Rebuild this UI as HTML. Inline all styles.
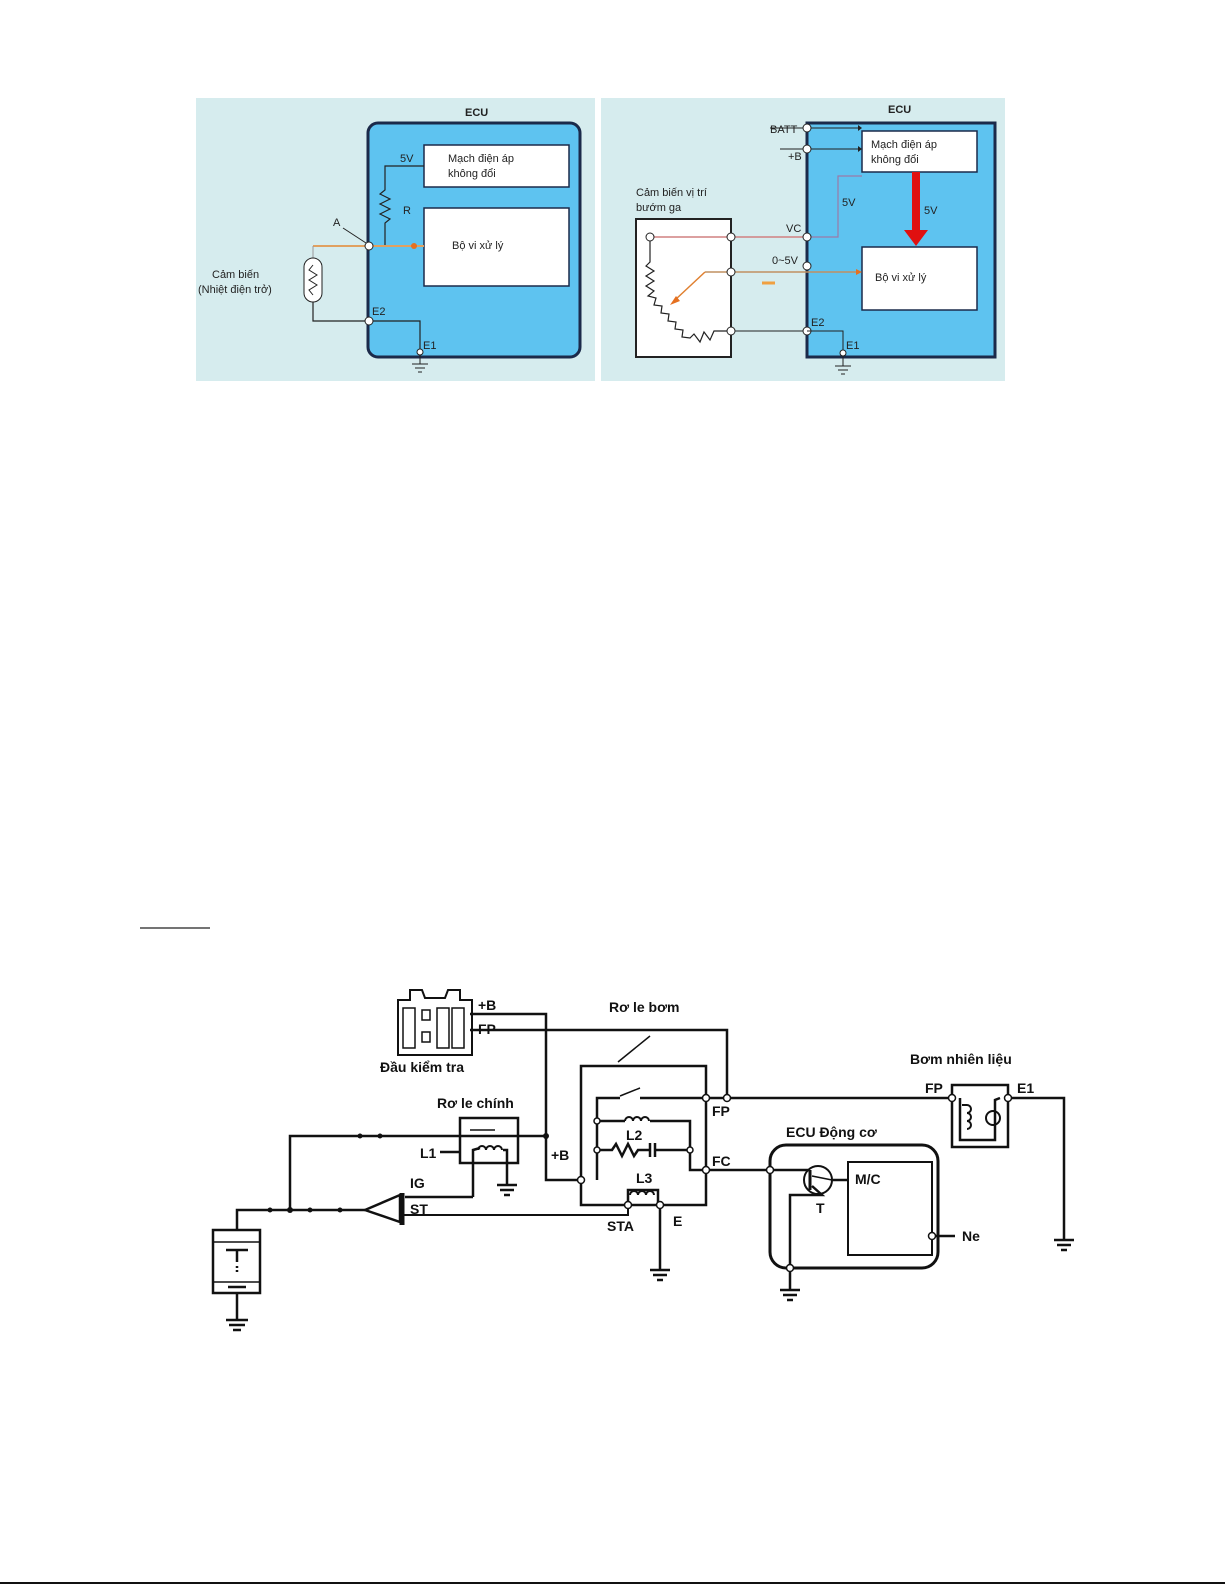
<!DOCTYPE html>
<html><head><meta charset="utf-8"><style>
html,body{margin:0;padding:0;background:#fff;}
svg{display:block;font-family:"Liberation Sans",sans-serif;}
</style></head><body>
<svg width="1225" height="1585" viewBox="0 0 1225 1585" xmlns="http://www.w3.org/2000/svg">
<rect width="1225" height="1585" fill="#fff"/>
<rect x="196" y="98" width="399" height="283" fill="#d6ecee"/>
<rect x="601" y="98" width="404" height="283" fill="#d6ecee"/>
<g font-size="11" fill="#222">
<text x="465" y="116" font-weight="bold">ECU</text>
<rect x="368" y="123" width="212" height="234" rx="10" fill="#5ec3f0" stroke="#1b2a4a" stroke-width="3"/>
<rect x="424" y="145" width="145" height="42" fill="#fff" stroke="#1b2a4a" stroke-width="1.5"/>
<text x="448" y="162">Mạch điện áp</text><text x="448" y="177">không đổi</text>
<rect x="424" y="208" width="145" height="78" fill="#fff" stroke="#1b2a4a" stroke-width="1.5"/>
<text x="452" y="249">Bộ vi xử lý</text>
<text x="400" y="162">5V</text>
<polyline points="424,166 385,166 385,190 380,194 390,199 380,204 390,209 380,214 390,219 385,223 385,246" fill="none" stroke="#222" stroke-width="1.2"/>
<text x="403" y="214">R</text>
<line x1="313" y1="246" x2="424" y2="246" stroke="#e0a060" stroke-width="2"/>
<polyline points="313,246 313,260" fill="none" stroke="#999" stroke-width="1"/>
<circle cx="414" cy="246" r="3" fill="#e57020"/>
<circle cx="369" cy="246" r="4" fill="#fff" stroke="#222"/>
<text x="333" y="226">A</text><line x1="343" y1="228" x2="366" y2="243" stroke="#222"/>
<rect x="304" y="258" width="18" height="44" rx="9" fill="#fff" stroke="#222"/>
<polyline points="313,265 309,270 317,275 309,280 317,285 309,290 313,295" fill="none" stroke="#222"/>
<text x="212" y="278">Cảm biến</text><text x="198" y="293">(Nhiệt điện trở)</text>
<polyline points="313,302 313,321 420,321 420,350" fill="none" stroke="#222" stroke-width="1.2"/>
<circle cx="369" cy="321" r="4" fill="#fff" stroke="#222"/>
<text x="372" y="315">E2</text><text x="423" y="349">E1</text>
<circle cx="420" cy="352" r="3" fill="#fff" stroke="#222"/>
<line x1="420" y1="355" x2="420" y2="364" stroke="#222"/>
<line x1="412" y1="364" x2="428" y2="364" stroke="#222"/><line x1="415" y1="368" x2="425" y2="368" stroke="#222"/><line x1="418" y1="372" x2="422" y2="372" stroke="#222"/>
</g>
<g font-size="11" fill="#222">
<text x="888" y="113" font-weight="bold">ECU</text>
<path d="M807,123 L995,123 L995,357 L807,357 Z" fill="#5ec3f0" stroke="#1b2a4a" stroke-width="3"/>
<rect x="862" y="131" width="115" height="41" fill="#fff" stroke="#1b2a4a" stroke-width="1.5"/>
<text x="871" y="148">Mạch điện áp</text><text x="871" y="163">không đổi</text>
<rect x="862" y="247" width="115" height="63" fill="#fff" stroke="#1b2a4a" stroke-width="1.5"/>
<text x="875" y="281">Bộ vi xử lý</text>
<text x="770" y="133">BATT</text><text x="788" y="160">+B</text>
<line x1="770" y1="128" x2="858" y2="128" stroke="#222"/><polygon points="858,125 862,128 858,131" fill="#222"/>
<line x1="780" y1="149" x2="858" y2="149" stroke="#222"/><polygon points="858,146 862,149 858,152" fill="#222"/>
<circle cx="807" cy="128" r="4" fill="#fff" stroke="#222"/><circle cx="807" cy="149" r="4" fill="#fff" stroke="#222"/>
<rect x="912" y="172" width="8" height="58" fill="#e01010"/><polygon points="904,230 928,230 916,246" fill="#e01010"/>
<text x="924" y="214">5V</text><text x="842" y="206">5V</text>
<polyline points="862,176 838,176 838,237 807,237" fill="none" stroke="#9b7aa8" stroke-width="1.2"/>
<text x="636" y="196">Cảm biến vị trí</text><text x="636" y="211">bướm ga</text>
<rect x="636" y="219" width="95" height="138" fill="#fff" stroke="#222" stroke-width="2"/>
<line x1="650" y1="237" x2="807" y2="237" stroke="#d08080" stroke-width="1.5"/>
<line x1="705" y1="272" x2="858" y2="272" stroke="#c09060" stroke-width="1.5"/>
<polygon points="856,269 862,272 856,275" fill="#e57020"/>
<polyline points="705,272 675,300" fill="none" stroke="#e08030" stroke-width="1.5"/>
<polygon points="670,305 676,296 680,301" fill="#e57020"/>
<line x1="762" y1="283" x2="775" y2="283" stroke="#f0a040" stroke-width="3"/>
<polyline points="650,237 650,262 646,266 654,271 646,276 654,281 646,286 654,291 648,296 656,298 654,305 662,306 661,313 669,314 668,321 676,322 675,329 683,330 682,337 690,338 694,334 700,342 704,332 710,340 714,331 731,331" fill="none" stroke="#222" stroke-width="1.2"/>
<circle cx="650" cy="237" r="4" fill="#fff" stroke="#222"/>
<line x1="731" y1="331" x2="807" y2="331" stroke="#222"/>
<circle cx="731" cy="237" r="4" fill="#fff" stroke="#222"/><circle cx="731" cy="272" r="4" fill="#fff" stroke="#222"/><circle cx="731" cy="331" r="4" fill="#fff" stroke="#222"/>
<circle cx="807" cy="237" r="4" fill="#fff" stroke="#222"/><circle cx="807" cy="266" r="4" fill="#fff" stroke="#222"/><circle cx="807" cy="331" r="4" fill="#fff" stroke="#222"/>
<text x="786" y="232">VC</text><text x="772" y="264">0~5V</text><text x="811" y="326">E2</text><text x="846" y="349">E1</text>
<polyline points="807,331 843,331 843,352" fill="none" stroke="#222"/>
<circle cx="843" cy="353" r="3" fill="#fff" stroke="#222"/>
<line x1="843" y1="356" x2="843" y2="366" stroke="#222"/>
<line x1="835" y1="366" x2="851" y2="366" stroke="#222"/><line x1="838" y1="370" x2="848" y2="370" stroke="#222"/><line x1="841" y1="374" x2="845" y2="374" stroke="#222"/>
</g>
<line x1="140" y1="928" x2="210" y2="928" stroke="#222" stroke-width="1.2"/>
<g stroke="#111" stroke-width="2.5" fill="none">
<path d="M398,1000 L410,1000 L410,990 L422,990 L425,998 L445,998 L448,990 L460,990 L460,1000 L472,1000 L472,1055 L398,1055 Z" stroke-width="2"/>
<g stroke-width="1.5"><rect x="403" y="1008" width="12" height="40"/><rect x="422" y="1010" width="8" height="10"/><rect x="422" y="1032" width="8" height="10"/><rect x="437" y="1008" width="12" height="40"/><rect x="452" y="1008" width="12" height="40"/></g>
<polyline points="470,1014 546,1014 546,1180 581,1180"/>
<polyline points="470,1030 727,1030 727,1098"/>
<rect x="581" y="1066" width="125" height="139"/>
<line x1="650" y1="1036" x2="618" y2="1062" stroke-width="1.5"/>
<polyline points="597,1180 597,1098 620,1098"/><polyline points="640,1098 706,1098"/>
<line x1="620" y1="1096" x2="640" y2="1088" stroke-width="1.5"/>
<polyline points="597,1121 625,1121"/><polyline points="650,1121 690,1121 690,1150"/>
<path d="M625,1121 a4,4 0 0 1 8,0 a4,4 0 0 1 8,0 a4,4 0 0 1 8,0" stroke-width="2"/>
<polyline points="597,1150 612,1150 616,1144 622,1156 628,1144 634,1156 638,1150 650,1150"/>
<line x1="650" y1="1143" x2="650" y2="1157"/><line x1="655" y1="1143" x2="655" y2="1157"/><line x1="655" y1="1150" x2="690" y2="1150"/>
<polyline points="690,1150 690,1170 706,1170"/>
<polyline points="706,1098 950,1098"/>
<polyline points="628,1205 628,1190 658,1190 658,1205"/>
<path d="M630,1195 a4,4 0 0 1 8,0 a4,4 0 0 1 8,0 a4,4 0 0 1 8,0" stroke-width="2"/>
<line x1="660" y1="1205" x2="660" y2="1270"/>
<line x1="650" y1="1270" x2="670" y2="1270"/><line x1="653" y1="1275" x2="667" y2="1275"/><line x1="657" y1="1280" x2="663" y2="1280"/>
<polyline points="400,1215 628,1215 628,1205" stroke-width="2"/>
<line x1="706" y1="1170" x2="770" y2="1170"/>
<rect x="770" y="1145" width="168" height="123" rx="16" stroke-width="3"/>
<rect x="848" y="1162" width="84" height="93" stroke-width="2"/>
<circle cx="818" cy="1180" r="14" stroke-width="2"/>
<line x1="770" y1="1170" x2="808" y2="1170"/><line x1="810" y1="1170" x2="810" y2="1190" stroke-width="3"/>
<line x1="812" y1="1176" x2="832" y2="1180" stroke-width="1.5"/>
<polyline points="812,1186 822,1195 790,1195 790,1290"/>
<line x1="832" y1="1180" x2="848" y2="1180"/>
<line x1="932" y1="1236" x2="955" y2="1236"/>
<line x1="780" y1="1290" x2="800" y2="1290"/><line x1="783" y1="1295" x2="797" y2="1295"/><line x1="787" y1="1300" x2="793" y2="1300"/>
<rect x="952" y="1085" width="56" height="62"/>
<path d="M962,1105 l5,0 m0,0 a4,4 0 0 1 0,8 a4,4 0 0 1 0,8 a4,4 0 0 1 0,8" stroke-width="2"/>
<circle cx="993" cy="1118" r="7" stroke-width="2"/>
<polyline points="960,1098 960,1140 995,1140 995,1100 1000,1098"/>
<polyline points="1008,1098 1064,1098 1064,1240"/>
<line x1="1054" y1="1240" x2="1074" y2="1240"/><line x1="1057" y1="1245" x2="1071" y2="1245"/><line x1="1061" y1="1250" x2="1067" y2="1250"/>
<rect x="460" y="1118" width="58" height="45" stroke-width="2.5"/>
<polyline points="290,1210 290,1136 546,1136"/>
<line x1="470" y1="1130" x2="495" y2="1130" stroke-width="1.5"/>
<polyline points="473,1197 473,1150 480,1148"/>
<path d="M478,1150 a4,4 0 0 1 8,0 a4,4 0 0 1 8,0 a4,4 0 0 1 8,0" stroke-width="2"/>
<polyline points="503,1150 507,1150 507,1185"/>
<line x1="440" y1="1152" x2="460" y2="1152"/>
<line x1="497" y1="1185" x2="517" y2="1185"/><line x1="500" y1="1190" x2="514" y2="1190"/><line x1="504" y1="1195" x2="510" y2="1195"/>
<polyline points="405,1197 473,1197"/>
<polyline points="237,1230 237,1210 365,1210"/>
<polygon points="365,1210 400,1195 400,1222" stroke-width="2.5"/>
<line x1="402" y1="1193" x2="402" y2="1225" stroke-width="5"/>
<rect x="213" y="1230" width="47" height="63" stroke-width="2.5"/>
<line x1="213" y1="1242" x2="260" y2="1242" stroke-width="1.5"/><line x1="213" y1="1282" x2="260" y2="1282" stroke-width="1.5"/>
<line x1="226" y1="1250" x2="248" y2="1250"/><line x1="237" y1="1250" x2="237" y2="1262"/><line x1="237" y1="1266" x2="237" y2="1272" stroke-dasharray="2,2"/><line x1="228" y1="1287" x2="246" y2="1287"/>
<line x1="237" y1="1293" x2="237" y2="1320"/>
<line x1="226" y1="1320" x2="248" y2="1320"/><line x1="229" y1="1325" x2="245" y2="1325"/><line x1="233" y1="1330" x2="241" y2="1330"/>
</g>
<g fill="#111">
<circle cx="546" cy="1136" r="3"/><circle cx="290" cy="1210" r="3"/><circle cx="360" cy="1136" r="2.5"/><circle cx="380" cy="1136" r="2.5"/>
<circle cx="270" cy="1210" r="2.5"/><circle cx="310" cy="1210" r="2.5"/><circle cx="340" cy="1210" r="2.5"/>
</g>
<g fill="#fff" stroke="#111" stroke-width="1.5">
<circle cx="706" cy="1098" r="3.5"/><circle cx="727" cy="1098" r="3.5"/><circle cx="581" cy="1180" r="3.5"/><circle cx="706" cy="1170" r="3.5"/>
<circle cx="597" cy="1121" r="3"/><circle cx="597" cy="1150" r="3"/><circle cx="690" cy="1150" r="3"/>
<circle cx="628" cy="1205" r="3.5"/><circle cx="660" cy="1205" r="3.5"/><circle cx="770" cy="1170" r="3.5"/>
<circle cx="932" cy="1236" r="3.5"/><circle cx="790" cy="1268" r="3.5"/><circle cx="952" cy="1098" r="3.5"/><circle cx="1008" cy="1098" r="3.5"/>
</g>
<g font-size="14" font-weight="bold" fill="#111">
<text x="478" y="1010">+B</text><text x="478" y="1034">FP</text>
<text x="380" y="1072">Đầu kiểm tra</text>
<text x="609" y="1012">Rơ le bơm</text>
<text x="437" y="1108">Rơ le chính</text>
<text x="420" y="1158">L1</text><text x="410" y="1188">IG</text><text x="410" y="1214">ST</text>
<text x="551" y="1160">+B</text><text x="626" y="1140">L2</text><text x="636" y="1183">L3</text>
<text x="712" y="1116">FP</text><text x="712" y="1166">FC</text>
<text x="607" y="1231">STA</text><text x="673" y="1226">E</text>
<text x="910" y="1064">Bơm nhiên liệu</text><text x="925" y="1093">FP</text><text x="1017" y="1093">E1</text>
<text x="786" y="1137">ECU Động cơ</text><text x="855" y="1184">M/C</text><text x="816" y="1213">T</text><text x="962" y="1241">Ne</text>
</g>
<line x1="0" y1="1583" x2="1225" y2="1583" stroke="#111" stroke-width="2"/>
</svg>
</body></html>
